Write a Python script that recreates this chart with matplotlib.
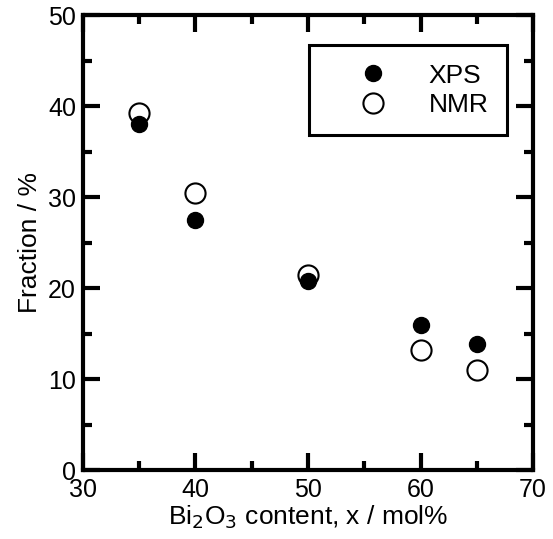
import matplotlib
matplotlib.use("Agg")
import matplotlib.pyplot as plt
from matplotlib.ticker import MultipleLocator

plt.rcParams['font.family'] = ['Liberation Sans', 'DejaVu Sans']

bi2o3 = [35, 40, 50, 60, 65]
xps = [38.0, 27.5, 20.8, 15.9, 13.9]
nmr = [39.2, 30.5, 21.4, 13.2, 11.0]

fig = plt.figure(figsize=(5.53, 5.39), dpi=100)
ax = fig.add_axes([0.150, 0.128, 0.814, 0.844])

ax.plot(bi2o3, xps, 'o', color='black', markersize=11.5, linestyle='none', label='XPS', zorder=3)
ax.plot(bi2o3, nmr, 'o', markerfacecolor='none', markeredgecolor='black', markeredgewidth=1.5,
        markersize=14.5, linestyle='none', label='NMR', zorder=4)

ax.set_xlim(30, 70)
ax.set_ylim(0, 50)
ax.xaxis.set_major_locator(MultipleLocator(10))
ax.xaxis.set_minor_locator(MultipleLocator(5))
ax.yaxis.set_major_locator(MultipleLocator(10))
ax.yaxis.set_minor_locator(MultipleLocator(5))
ax.tick_params(which='both', direction='in', top=True, right=True, width=3, labelsize=18, colors='black')
ax.tick_params(which='major', length=12.5)
ax.tick_params(which='minor', length=6.5)
ax.tick_params(axis='x', which='major', pad=6)
ax.tick_params(axis='y', which='major', pad=5)
for s in ax.spines.values():
    s.set_linewidth(3)

ax.set_xlabel('Bi$_2$O$_3$ content, x / mol%', fontsize=19, labelpad=1)
ax.set_ylabel('Fraction / %', fontsize=19, labelpad=4)

leg = ax.legend(loc='upper right', bbox_to_anchor=(0.942, 0.934), fontsize=19, frameon=True,
                fancybox=False, edgecolor='black', framealpha=1, handletextpad=0.35, borderpad=0.7,
                labelspacing=0.2, handlelength=3.5, borderaxespad=0)
leg.get_frame().set_linewidth(2.2)

fig.savefig('out.png', dpi=100)
